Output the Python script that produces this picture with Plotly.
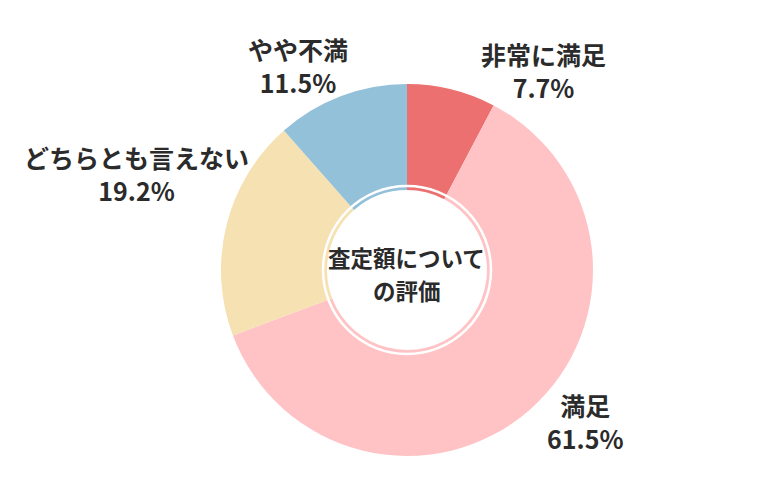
import plotly.graph_objects as go

categories = ["非常に満足", "満足", "どちらとも言えない", "やや不満"]
values = [7.7, 61.5, 19.2, 11.5]
pct_labels = ["7.7%", "61.5%", "19.2%", "11.5%"]
colors = ["#EC7070", "#FFC3C5", "#F5E1B1", "#94C1DA"]
center_lines = ["査定額について", "の評価"]

W, H = 780, 500
OFF = 8  # page body margin offset
CX, CY, R = 407 - OFF, 270 - OFF, 186
MT, MB = CY - R, H - (CY + R)
PH = H - MT - MB

def px_x(x):
    return (x - OFF) / W

def px_y(y):
    return (H - MB - (y - OFF)) / PH

def px_xc(x):
    return x / W

fig = go.Figure(go.Pie(
    labels=categories,
    values=values,
    marker=dict(colors=colors, line=dict(width=0)),
    hole=0.43,
    sort=False,
    direction="clockwise",
    rotation=0,
    textinfo="none",
    hoverinfo="label+percent",
    domain=dict(x=[px_xc(CX - R), px_xc(CX + R)], y=[0, 1]),
    showlegend=False,
))

# label block centers in screen pixels
label_pos = [
    (543.5, 70),
    (584.5, 421),
    (136.5, 173.5),
    (297.5, 65),
]

font_family = "Noto Sans CJK JP"
ann = []
for cat, pct, (x, y) in zip(categories, pct_labels, label_pos):
    ann.append(dict(text=f"<b>{cat}</b><br><b>{pct}</b>", x=px_x(x), y=px_y(y),
                    xref="paper", yref="paper", align="center",
                    xanchor="center", yanchor="middle", showarrow=False,
                    font=dict(family=font_family, size=25, color="#2b2b2b")))

for line, yy in zip(center_lines, [257, 290]):
    ann.append(dict(text=f"<b>{line}</b>", x=px_x(407), y=px_y(yy), xref="paper", yref="paper",
                    xanchor="center", yanchor="middle", showarrow=False,
                    font=dict(family=font_family, size=22.5, color="#2b2b2b")))

ring_r = 84
fig.add_shape(type="circle", xref="paper", yref="paper",
              x0=px_xc(CX - ring_r), x1=px_xc(CX + ring_r),
              y0=(H - MB - (CY + ring_r)) / PH, y1=(H - MB - (CY - ring_r)) / PH,
              line=dict(color="white", width=2.5), fillcolor="rgba(0,0,0,0)")

fig.update_layout(
    width=W, height=H,
    margin=dict(l=0, r=0, t=MT, b=MB, autoexpand=False),
    paper_bgcolor="white", plot_bgcolor="white",
    annotations=ann,
    font=dict(family=font_family),
)

fig.write_html("out.html")
